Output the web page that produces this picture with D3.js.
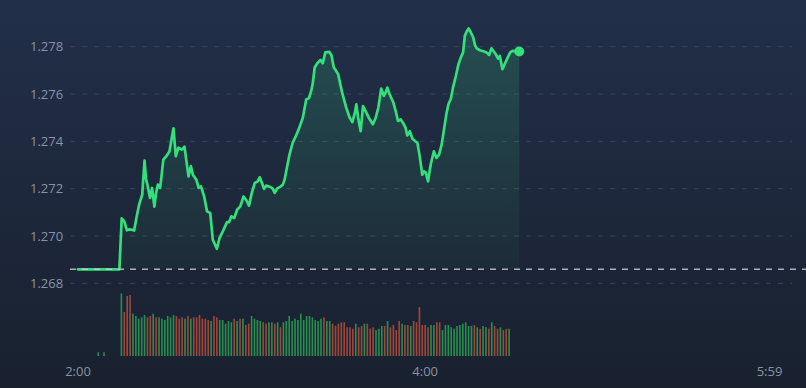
<!DOCTYPE html>
<html>
<head>
<meta charset="utf-8">
<script src="https://cdn.jsdelivr.net/npm/d3@7"></script>
<style>
  html, body { margin: 0; padding: 0; background: #1c2538; }
  svg { display: block; }
</style>
</head>
<body>
<svg id="chart" width="806" height="388"></svg>
<script>
// session open is 2:00, times below are minutes after open
var sessionStart = new Date(2024, 0, 1, 2, 0);
var sessionEnd = new Date(2024, 0, 1, 5, 59);
var axisTicks = ["2:00", "4:00", "5:59"];
var yTicks = [1.268, 1.270, 1.272, 1.274, 1.276, 1.278];
var prevClose = 1.26859;

var priceMinutes = [0, 14.3, 15.1, 16.0, 16.9, 17.8, 18.7, 19.4, 20.3, 21.2, 22.2, 23.0, 23.5, 24.1, 24.9, 25.6, 26.4, 27.0, 27.6, 28.4,
  29.5, 30.5, 31.6, 33.0, 33.8, 34.7, 35.9, 36.8, 38.2, 39.0, 39.7, 40.9, 41.7, 42.5, 43.6, 44.6, 45.7, 46.6, 48.0, 48.9,
  50.3, 51.5, 52.2, 53.0, 54.0, 55.0, 56.1, 57.2, 58.2, 59.1, 60.0, 61.1, 62.1, 62.8, 63.6, 64.3, 65.0, 66.5, 67.3, 68.0,
  68.8, 70.0, 70.8, 71.4, 72.3, 73.1, 74.2, 75.4, 76.5, 77.7, 78.9, 79.8, 80.6, 81.1, 81.8, 82.7, 83.8, 84.6, 85.5, 86.9,
  87.6, 88.4, 89.2, 89.9, 91.3, 92.7, 93.9, 94.8, 95.7, 96.2, 96.9, 97.7, 98.5, 99.4, 100.5, 101.9, 102.9, 103.8, 104.8, 105.7,
  106.3, 106.9, 107.7, 109.0, 109.8, 110.6, 111.5, 112.3, 113.2, 113.8, 114.7, 115.6, 116.5, 117.3, 118.1, 119.0, 119.6, 120.2, 121.0, 121.9,
  123.0, 123.9, 124.8, 125.7, 126.5, 127.3, 128.0, 128.9, 129.6, 130.6, 131.5, 132.3, 133.1, 133.7, 134.3, 135.0, 135.8, 136.6, 137.2, 137.8,
  138.9, 140.4, 141.2, 142.1, 142.9, 143.6, 144.4, 145.2, 145.8, 146.7, 147.6, 148.5, 149.4, 150.2, 151.1, 152.5];

var priceValues = [1.26859, 1.26859, 1.27074, 1.27062, 1.27024, 1.27028, 1.27026, 1.27023, 1.27083, 1.27136, 1.27175, 1.27319, 1.27242, 1.27210, 1.27161, 1.27203, 1.27124, 1.27182, 1.27217, 1.27203,
  1.27323, 1.27337, 1.27357, 1.27455, 1.27337, 1.27373, 1.27365, 1.27377, 1.27252, 1.27295, 1.27259, 1.27238, 1.27203, 1.27210, 1.27167, 1.27104, 1.27097, 1.26984, 1.26946, 1.26991,
  1.27026, 1.27059, 1.27058, 1.27083, 1.27076, 1.27111, 1.27125, 1.27167, 1.27151, 1.27128, 1.27179, 1.27224, 1.27231, 1.27248, 1.27224, 1.27199, 1.27213, 1.27207, 1.27200, 1.27182,
  1.27200, 1.27209, 1.27217, 1.27238, 1.27295, 1.27344, 1.27394, 1.27425, 1.27458, 1.27500, 1.27578, 1.27582, 1.27613, 1.27641, 1.27712, 1.27730, 1.27744, 1.27730, 1.27776, 1.27778,
  1.27764, 1.27712, 1.27698, 1.27684, 1.27606, 1.27542, 1.27500, 1.27481, 1.27521, 1.27556, 1.27493, 1.27443, 1.27549, 1.27528, 1.27500, 1.27472, 1.27500, 1.27542, 1.27623, 1.27592,
  1.27606, 1.27627, 1.27599, 1.27564, 1.27528, 1.27486, 1.27493, 1.27479, 1.27458, 1.27425, 1.27443, 1.27411, 1.27401, 1.27394, 1.27337, 1.27259, 1.27273, 1.27269, 1.27231, 1.27302,
  1.27358, 1.27330, 1.27344, 1.27387, 1.27450, 1.27514, 1.27556, 1.27581, 1.27627, 1.27676, 1.27726, 1.27754, 1.27776, 1.27846, 1.27863, 1.27877, 1.27860, 1.27839, 1.27807, 1.27793,
  1.27785, 1.27780, 1.27776, 1.27765, 1.27793, 1.27782, 1.27768, 1.27750, 1.27761, 1.27705, 1.27730, 1.27754, 1.27776, 1.27782, 1.27781, 1.27780];

// one bar per minute
var volMinutes = [7, 9,
  15, 16, 17, 18, 19, 20, 21, 22, 23, 24, 25, 26, 27, 28, 29, 30, 31, 32, 33, 34,
  35, 36, 37, 38, 39, 40, 41, 42, 43, 44, 45, 46, 47, 48, 49, 50, 51, 52, 53, 54,
  55, 56, 57, 58, 59, 60, 61, 62, 63, 64, 65, 66, 67, 68, 69, 70, 71, 72, 73, 74,
  75, 76, 77, 78, 79, 80, 81, 82, 83, 84, 85, 86, 87, 88, 89, 90, 91, 92, 93, 94,
  95, 96, 97, 98, 99, 100, 101, 102, 103, 104, 105, 106, 107, 108, 109, 110, 111, 112, 113, 114,
  115, 116, 117, 118, 119, 120, 121, 122, 123, 124, 125, 126, 127, 128, 129, 130, 131, 132, 133, 134,
  135, 136, 137, 138, 139, 140, 141, 142, 143, 144, 145, 146, 147, 148, 149];

var volValues = [37, 37,
  627, 440, 600, 610, 423, 400, 373, 387, 410, 387, 400, 423, 387, 387, 373, 360, 400, 387, 410, 400,
  373, 387, 373, 400, 373, 387, 387, 410, 373, 373, 360, 350, 400, 387, 360, 360, 323, 350, 337, 373,
  350, 373, 373, 310, 323, 400, 373, 360, 350, 337, 323, 337, 337, 323, 337, 287, 337, 350, 400, 350,
  373, 360, 423, 360, 400, 400, 387, 360, 350, 373, 387, 350, 350, 323, 300, 323, 337, 337, 287, 287,
  273, 323, 287, 300, 323, 323, 273, 287, 260, 273, 300, 300, 350, 287, 310, 260, 350, 323, 310, 310,
  300, 350, 337, 490, 310, 310, 287, 310, 310, 337, 337, 260, 310, 310, 287, 273, 300, 310, 323, 337,
  300, 300, 310, 287, 273, 300, 287, 273, 337, 300, 273, 287, 260, 273, 273];

// 1 = up minute (green), 0 = down minute (red)
var volUp = [1, 1,
  1, 0, 0, 0, 1, 1, 1, 1, 1, 0, 0, 1, 0, 1, 1, 1, 1, 1, 1, 0,
  0, 0, 1, 0, 1, 0, 0, 0, 0, 0, 0, 1, 0, 0, 1, 1, 1, 1, 1, 0,
  1, 0, 1, 0, 0, 1, 1, 1, 1, 0, 0, 1, 1, 0, 1, 0, 1, 1, 1, 1,
  1, 1, 1, 1, 1, 1, 1, 1, 1, 1, 0, 1, 1, 0, 0, 0, 0, 0, 0, 0,
  0, 1, 0, 0, 1, 0, 0, 0, 1, 1, 1, 0, 1, 0, 0, 0, 0, 1, 0, 0,
  1, 0, 0, 0, 0, 0, 0, 1, 1, 0, 0, 1, 1, 1, 1, 1, 1, 1, 1, 1,
  1, 1, 0, 1, 0, 1, 1, 0, 1, 0, 0, 1, 0, 0, 1];

var width = 806, height = 388;
var lineColor = "#33e07a";

function minuteToDate(m) {
    return new Date(sessionStart.getTime() + m * 60000);
}

var svg = d3.select("#chart");
var defs = svg.append("defs");

var bg = defs.append("linearGradient").attr("id", "bg")
    .attr("x1", 0).attr("y1", 0).attr("x2", 0).attr("y2", 1);
bg.append("stop").attr("offset", "0%").attr("stop-color", "#222f49");
bg.append("stop").attr("offset", "100%").attr("stop-color", "#19212f");

var areaGrad = defs.append("linearGradient").attr("id", "areaFill")
    .attr("gradientUnits", "userSpaceOnUse")
    .attr("x1", 0).attr("y1", 30).attr("x2", 0).attr("y2", 270);
areaGrad.append("stop").attr("offset", "0%").attr("stop-color", lineColor).attr("stop-opacity", 0.18);
areaGrad.append("stop").attr("offset", "100%").attr("stop-color", lineColor).attr("stop-opacity", 0.03);

svg.append("rect").attr("width", width).attr("height", height).attr("fill", "url(#bg)");

// scales
var x = d3.scaleTime().domain([sessionStart, sessionEnd]).range([78, 769.5]);
var y = d3.scaleLinear().domain([1.268, 1.278]).range([283.3, 46.7]);
var yVol = d3.scaleLinear().domain([0, 630]).range([356, 293]);

// grid + price labels
svg.append("g").selectAll("line")
    .data(yTicks)
    .enter().append("line")
    .attr("x1", 70).attr("x2", 792)
    .attr("y1", function(d) { return y(d); })
    .attr("y2", function(d) { return y(d); })
    .attr("stroke", "#3a4559")
    .attr("stroke-width", 1)
    .attr("stroke-dasharray", "5,7");

svg.append("g").selectAll("text")
    .data(yTicks)
    .enter().append("text")
    .attr("x", 30)
    .attr("y", function(d) { return y(d); })
    .attr("dy", "0.35em")
    .attr("fill", "#8a93a5")
    .style("font-family", "'Open Sans', sans-serif")
    .style("font-size", "13px")
    .text(function(d) { return d3.format(".3f")(d); });

// time axis labels
var parseHM = d3.timeParse("%H:%M");
svg.append("g").selectAll("text")
    .data(axisTicks)
    .enter().append("text")
    .attr("x", function(d) {
        var t = parseHM(d);
        return x(new Date(2024, 0, 1, t.getHours(), t.getMinutes()));
    })
    .attr("y", 376)
    .attr("text-anchor", "middle")
    .attr("fill", "#8a93a5")
    .style("font-family", "'Open Sans', sans-serif")
    .style("font-size", "13px")
    .text(function(d) { return d; });

// volume bars
var bars = volMinutes.map(function(m, i) {
    return {t: minuteToDate(m), v: volValues[i], up: volUp[i]};
});
svg.append("g").selectAll("rect")
    .data(bars)
    .enter().append("rect")
    .attr("x", function(d) { return x(d.t) - 0.8; })
    .attr("width", 1.6)
    .attr("y", function(d) { return yVol(d.v); })
    .attr("height", function(d) { return yVol(0) - yVol(d.v); })
    .attr("fill", function(d) { return d.up ? "#27904f" : "#a2463b"; });

// price line + area
var n = Math.min(priceMinutes.length, priceValues.length);
var prices = [];
for (var i = 0; i < n; i++) {
    prices.push({t: minuteToDate(priceMinutes[i]), v: priceValues[i]});
}

var area = d3.area()
    .x(function(d) { return x(d.t); })
    .y0(y(prevClose))
    .y1(function(d) { return y(d.v); });

var line = d3.line()
    .x(function(d) { return x(d.t); })
    .y(function(d) { return y(d.v); });

svg.append("path").datum(prices)
    .attr("d", area)
    .attr("fill", "url(#areaFill)");

svg.append("path").datum(prices)
    .attr("d", line)
    .attr("fill", "none")
    .attr("stroke", lineColor)
    .attr("stroke-width", 2.7)
    .attr("stroke-linejoin", "round")
    .attr("stroke-linecap", "round");

// previous close reference
svg.append("line")
    .attr("x1", 70).attr("x2", width)
    .attr("y1", y(prevClose)).attr("y2", y(prevClose))
    .attr("stroke", "#c3c8d2")
    .attr("stroke-opacity", 0.85)
    .attr("stroke-width", 1.5)
    .attr("stroke-dasharray", "6,6");

var last = prices[prices.length - 1];
svg.append("circle")
    .attr("cx", x(last.t))
    .attr("cy", y(last.v))
    .attr("r", 5)
    .attr("fill", lineColor);
</script>
</body>
</html>
